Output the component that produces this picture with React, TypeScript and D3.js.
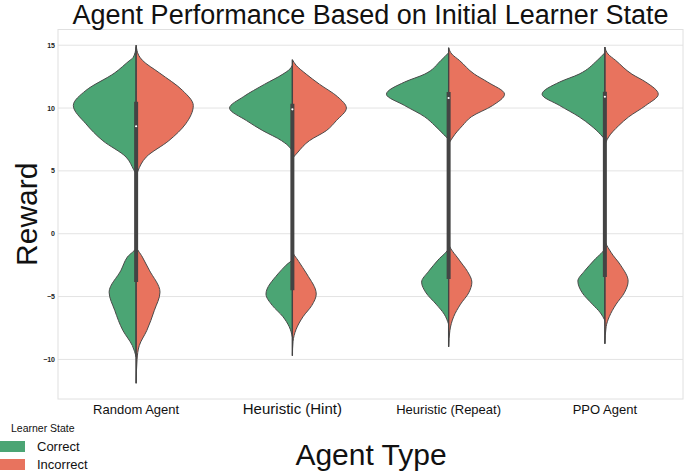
import React from "react";
import * as d3 from "d3";

// ---- data ----
const agents = ["Random Agent", "Heuristic (Hint)", "Heuristic (Repeat)", "PPO Agent"];
const states = ["Correct", "Incorrect"];
const yTicks = [-10, -5, 0, 5, 10, 15];

// density profiles: [reward, relative density]
const randomCorrect = [[14.85,0],[14.0,0.05],[13.8,0.1],[12.8,0.34],[11.4,0.8],[10.2,1.0],[8.75,0.8],[7.4,0.53],[6.1,0.16],[5.1,0.04],[4.7,0],[-1.07,0],[-1.86,0.14],[-2.9,0.24],[-4.65,0.43],[-6.1,0.34],[-7.7,0.21],[-8.9,0.06],[-9.8,0]];
const randomIncorrect = [[15.0,0],[14.2,0.04],[13.8,0.1],[12.8,0.37],[11.4,0.74],[10.2,0.91],[8.75,0.79],[7.4,0.52],[6.1,0.16],[5.0,0.03],[4.5,0],[-0.9,0],[-1.86,0.1],[-2.9,0.21],[-4.65,0.38],[-6.1,0.29],[-7.7,0.17],[-8.9,0.05],[-10.0,0.015],[-11.9,0]];
const hintCorrect = [[13.4,0],[13.1,0.04],[12.7,0.15],[11.9,0.44],[10.9,0.78],[10.0,1.0],[9.0,0.73],[8.2,0.47],[7.4,0.17],[6.8,0.03],[6.5,0],[-2.0,0],[-2.5,0.1],[-3.2,0.23],[-4.8,0.42],[-5.7,0.32],[-6.6,0.15],[-7.4,0.05],[-8.2,0]];
const hintIncorrect = [[13.85,0],[13.4,0.06],[12.7,0.22],[11.9,0.43],[10.9,0.72],[10.0,0.86],[9.0,0.7],[8.2,0.54],[7.4,0.27],[6.5,0.09],[5.85,0],[-1.3,0],[-2.2,0.1],[-3.2,0.23],[-4.8,0.38],[-5.7,0.31],[-6.6,0.17],[-7.6,0.06],[-8.6,0.01],[-9.7,0]];
const repeatCorrect = [[14.4,0],[13.8,0.12],[12.7,0.38],[12.07,0.7],[11.1,0.99],[10.2,0.7],[9.3,0.38],[8.6,0.22],[7.9,0.08],[7.4,0],[-1.07,0],[-2.1,0.17],[-3.0,0.32],[-3.85,0.43],[-4.7,0.36],[-5.6,0.2],[-6.4,0.07],[-7.2,0]];
const repeatIncorrect = [[14.8,0],[14.3,0.05],[13.8,0.17],[12.7,0.41],[12.07,0.62],[11.1,0.89],[10.2,0.7],[9.3,0.36],[8.6,0.22],[7.7,0.07],[7.0,0],[-0.67,0],[-2.1,0.17],[-3.0,0.3],[-3.85,0.37],[-4.7,0.32],[-5.6,0.19],[-6.6,0.08],[-7.7,0.02],[-9.0,0]];
const ppoCorrect = [[14.4,0],[13.8,0.12],[12.7,0.41],[12.07,0.72],[11.1,1.0],[10.2,0.72],[9.3,0.41],[8.6,0.22],[7.9,0.07],[7.4,0],[-1.07,0],[-2.1,0.17],[-3.0,0.33],[-3.77,0.43],[-4.7,0.36],[-5.6,0.2],[-6.3,0.07],[-6.9,0]];
const ppoIncorrect = [[14.85,0],[14.3,0.05],[13.8,0.17],[12.7,0.43],[12.07,0.65],[11.1,0.85],[10.2,0.65],[9.3,0.38],[8.6,0.22],[7.7,0.06],[6.9,0],[-0.4,0],[-1.5,0.1],[-2.5,0.25],[-3.77,0.37],[-4.7,0.31],[-5.6,0.18],[-6.6,0.07],[-7.4,0.02],[-8.75,0]];

const q1 = [-3.85, -4.5, -3.6, -3.45];
const medians = [8.55, 9.9, 10.8, 10.9];
const q3 = [10.5, 10.35, 11.27, 11.3];

const profiles = [
  [randomCorrect, randomIncorrect],
  [hintCorrect, hintIncorrect],
  [repeatCorrect, repeatIncorrect],
  [ppoCorrect, ppoIncorrect],
];

// ---- style ----
const W = 685, H = 472;
const M = { left: 58, right: 683, top: 29.5, bottom: 399 };
const COLORS = ["#4ba574", "#e8735e"];
const LABEL_SIZES = [13, 15, 13, 13];
const FONT = "'Liberation Sans', Arial, sans-serif";

export default function App() {
  const x = d3.scaleBand().domain(agents).range([M.left, M.right]);
  const y = d3.scaleLinear().domain([-13.15, 16.25]).range([M.bottom, M.top]);
  const wScale = d3.scaleLinear().domain([0, 1]).range([0, x.bandwidth() * 0.402]);

  return (
    <svg width={W} height={H} style={{ position: "absolute", left: 0, top: 0, background: "#fff" }} fontFamily={FONT}>
      {/* grid */}
      {yTicks.map((t) => (
        <line key={t} x1={M.left} x2={M.right} y1={y(t)} y2={y(t)} stroke="#e3e3e3" strokeWidth={1} />
      ))}
      <rect x={M.left} y={M.top} width={M.right - M.left} height={M.bottom - M.top} fill="none" stroke="#e0e0e0" strokeWidth={1} />
      {/* y tick labels */}
      {yTicks.map((t) => (
        <text key={t} x={M.left - 3} y={y(t)} dy="0.35em" textAnchor="end" fontSize={7} fontWeight="bold" fill="#222">
          {t < 0 ? "\u2212" + Math.abs(t) : t}
        </text>
      ))}
      {/* violins */}
      {agents.map((a, i) => {
        const cx = x(a)! + x.bandwidth() / 2;
        return (
          <g key={a}>
            {states.map((s, j) => {
              const sign = j === 0 ? -1 : 1;
              const area = d3
                .area<number[]>()
                .y((d) => y(d[0]))
                .x0(cx)
                .x1((d) => cx + sign * wScale(d[1]))
                .curve(d3.curveMonotoneY);
              return (
                <path key={s} d={area(profiles[i][j])!} fill={COLORS[j]} stroke="#4a4a4a" strokeWidth={1} strokeLinejoin="round" />
              );
            })}
            {(() => {
              const all = profiles[i][0].concat(profiles[i][1]).map((d) => d[0]);
              const lo = d3.min(all)!, hi = d3.max(all)!;
              return (
                <g>
                  <line x1={cx} x2={cx} y1={y(hi)} y2={y(lo)} stroke="#444" strokeWidth={1.3} />
                  <line x1={cx} x2={cx} y1={y(q3[i])} y2={y(q1[i])} stroke="#444" strokeWidth={4} />
                  <circle cx={cx} cy={y(medians[i])} r={1.1} fill="#fff" />
                </g>
              );
            })()}
          </g>
        );
      })}
      {/* x tick labels */}
      {agents.map((a, i) => (
        <text key={a} x={x(a)! + x.bandwidth() / 2} y={414} textAnchor="middle" fontSize={LABEL_SIZES[i]} fill="#111">
          {a}
        </text>
      ))}
      {/* titles */}
      <text x={(M.left + M.right) / 2} y={24} textAnchor="middle" fontSize={27} fill="#111">
        Agent Performance Based on Initial Learner State
      </text>
      <text x={371} y={465} textAnchor="middle" fontSize={30} fill="#111">
        Agent Type
      </text>
      <text transform={`translate(37,${(M.top + M.bottom) / 2}) rotate(-90)`} textAnchor="middle" fontSize={30} fill="#111">
        Reward
      </text>
      {/* legend */}
      <text x={11} y={432} fontSize={10.5} fill="#111">Learner State</text>
      {states.map((s, j) => (
        <g key={s}>
          <rect x={-2} y={441 + j * 18} width={27} height={11} fill={COLORS[j]} />
          <text x={37} y={451 + j * 18} fontSize={13} fill="#111">{s}</text>
        </g>
      ))}
    </svg>
  );
}
